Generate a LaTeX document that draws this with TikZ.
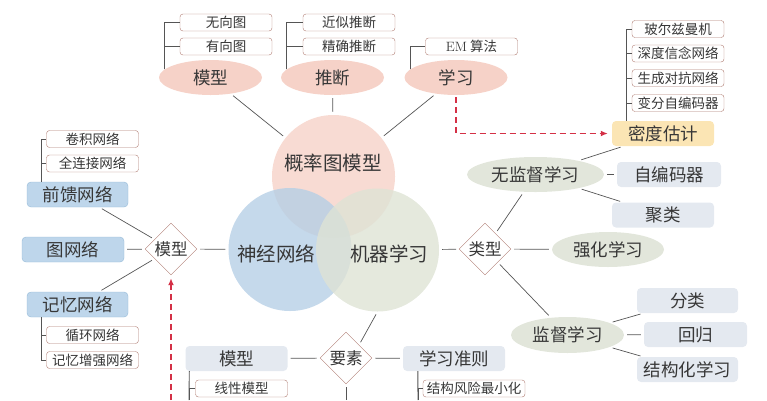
\documentclass[tikz,border=0pt]{standalone}
\usepackage{fontspec}
\newfontfamily\cjk{Noto Sans CJK SC}
\usetikzlibrary{shapes.geometric,arrows.meta}

\definecolor{txtc}{RGB}{55,55,55}
\definecolor{linec}{RGB}{85,85,85}
\definecolor{leafc}{RGB}{176,125,115}
\definecolor{pinkc}{RGB}{246,210,200}
\definecolor{bluec}{RGB}{182,207,230}
\definecolor{greenc}{RGB}{222,227,213}
\definecolor{blueboxc}{RGB}{190,214,235}
\definecolor{blueedge}{RGB}{150,186,216}
\definecolor{grayboxc}{RGB}{228,233,240}
\definecolor{greenell}{RGB}{226,230,219}
\definecolor{yellowc}{RGB}{251,229,180}
\definecolor{redc}{RGB}{212,48,70}

\begin{document}
\begin{tikzpicture}[x=1pt,y=-1pt,
    every node/.style={text=txtc},
    leaf/.style={rectangle, rounded corners=3pt, draw=leafc, fill=white, minimum width=92pt, minimum height=17pt, inner sep=0pt, font={\cjk\fontsize{13.5}{14}\selectfont}},
    bluebox/.style={rectangle, rounded corners=4pt, draw=blueedge, fill=blueboxc, minimum width=101pt, minimum height=25pt, inner sep=0pt, font={\cjk\fontsize{17.5}{18}\selectfont}},
    graybox/.style={rectangle, rounded corners=4pt, fill=grayboxc, minimum width=102pt, minimum height=25pt, inner sep=0pt, font={\cjk\fontsize{17.5}{18}\selectfont}},
    yellowbox/.style={rectangle, rounded corners=4pt, fill=yellowc, minimum width=102pt, minimum height=25pt, inner sep=0pt, font={\cjk\fontsize{17.5}{18}\selectfont}},
    pinkell/.style={ellipse, fill=pinkc, minimum width=103pt, minimum height=35pt, inner sep=0pt, font={\cjk\fontsize{17.5}{18}\selectfont}},
    greenellip/.style={ellipse, fill=greenell, minimum height=35pt, inner sep=0pt, font={\cjk\fontsize{17.5}{18}\selectfont}},
    diam/.style={diamond, draw=leafc, fill=white, minimum size=52pt, inner sep=0pt, font={\cjk\fontsize{16.5}{17}\selectfont}},
    bigc/.style={circle, minimum size=123pt, inner sep=0pt, fill opacity=0.8},
    bigtext/.style={font={\cjk\fontsize{19.5}{20}\selectfont}},
    link/.style={draw=linec, line width=0.7pt, shorten <=3pt, shorten >=3pt},
    bracket/.style={draw=linec, line width=0.9pt},
    redarrow/.style={draw=redc, line width=1.4pt, dash pattern=on 6pt off 4pt, -{Latex[length=7pt,width=6pt]}}]

        \useasboundingbox (0,0) rectangle (767,400);

        % Circles
        \node(pgm) [bigc, fill=pinkc] at (333.5,176.5) {};
        \node(nn) [bigc, fill=bluec] at (290,249.5) {};
        \node(ml) [bigc, fill=greenc] at (377.5,250) {};
        \node(pgmt) [bigtext] at (333,163) {概率图模型};
        \node(nnt) [bigtext] at (276,254) {神经网络};
        \node(mlt) [bigtext] at (389,254) {机器学习};

        % Top
        \node(gm) [pinkell] at (210.5,77.5) {模型};
        \node(td) [pinkell] at (332.5,77.5) {推断};
        \node(xx) [pinkell] at (456,77.5) {学习};
        \node(wx) [leaf] at (226,22.5) {无向图};
        \node(yx) [leaf] at (226,46.5) {有向图};
        \node(js) [leaf] at (349,22.5) {近似推断};
        \node(jq) [leaf] at (349,46.5) {精确推断};
        \node(em) [leaf] at (471.5,46.5) {{\rmfamily EM} 算法};

        % Left
        \node(ff) [bluebox] at (77.5,194.5) {前馈网络};
        \node(jj) [leaf] at (92.5,139) {卷积网络};
        \node(qlj) [leaf] at (92.5,163.5) {全连接网络};
        \node(gn) [bluebox, minimum width=102pt] at (73,249.5) {图网络};
        \node(jy) [bluebox] at (77.5,304.5) {记忆网络};
        \node(xh) [leaf] at (92.5,335) {循环网络};
        \node(zq) [leaf] at (92.5,360) {记忆增强网络};
        \node(mx) [diam] at (171,249) {模型};

        % Bottom
        \node(ys) [diam] at (346,358) {要素};
        \node(bm) [graybox] at (236.5,358.5) {模型};
        \node(xm) [leaf] at (241.5,388.5) {线性模型};
        \node(zz) [graybox] at (454,358.5) {学习准则};
        \node(jf) [leaf, minimum width=102pt] at (474,388.5) {结构风险最小化};
        \coordinate(bmend) at (189,400);
        \coordinate(zzend) at (418,400);
        \coordinate(ysend) at (346,400);
        \coordinate(arrstart) at (171,400);

        % Right
        \node(lx) [diam] at (485,249) {类型};
        \node(wj) [greenellip, minimum width=137pt] at (535.5,174.5) {无监督学习};
        \node(mdgj) [yellowbox] at (663,133.5) {密度估计};
        \node(bez) [leaf] at (678,29) {玻尔兹曼机};
        \node(sdx) [leaf] at (678,53.5) {深度信念网络};
        \node(scd) [leaf] at (678,78) {生成对抗网络};
        \node(bfz) [leaf] at (678,103) {变分自编码器};
        \node(zbm) [graybox, minimum width=104pt] at (669,174.5) {自编码器};
        \node(jl) [graybox] at (663,215) {聚类};
        \node(qh) [greenellip, minimum width=112pt] at (608,249.5) {强化学习};
        \node(jd) [greenellip, minimum width=113pt, minimum height=36pt] at (567.5,335) {监督学习};
        \node(fl) [graybox, minimum width=101pt] at (687.5,300.5) {分类};
        \node(hg) [graybox, minimum width=103pt] at (695.5,334.5) {回归};
        \node(jg) [graybox, minimum width=101pt] at (687.5,369.5) {结构化学习};

        % Brackets
        \draw[bracket] (gm.170) |- (wx.west);
        \draw[bracket] (gm.170) |- (yx.west);
        \draw[bracket] (td.170) |- (js.west);
        \draw[bracket] (td.170) |- (jq.west);
        \draw[bracket] (xx.170) |- (em.west);
        \draw[bracket] ([xshift=15pt]ff.north west) |- (jj.west);
        \draw[bracket] ([xshift=15pt]ff.north west) |- (qlj.west);
        \draw[bracket] ([xshift=15pt]jy.south west) |- (xh.west);
        \draw[bracket] ([xshift=15pt]jy.south west) |- (zq.west);
        \foreach \n in {bez,sdx,scd,bfz}
            \draw[bracket] ([xshift=15pt]mdgj.north west) |- (\n.west);
        \draw[bracket] ([xshift=4pt]bm.south west) -- (bmend);
        \draw[bracket] (xm.west) -| (bmend);
        \draw[bracket] ([xshift=15pt]zz.south west) -- (zzend);
        \draw[bracket] (jf.west) -| (zzend);

        % Edges
        \draw[link] (gm) -- (pgm);
        \draw[link] (td) -- (pgm);
        \draw[link] (xx) -- (pgm);
        \draw[link] (ff) -- (mx);
        \draw[link] (gn) -- (mx);
        \draw[link] (jy) -- (mx);
        \draw[link] (mx) -- (nn);
        \draw[link] (ml) -- (lx);
        \draw[link] (ml.south) -- (ys.north east);
        \draw[link] (bm) -- (ys);
        \draw[link] (ys) -- (zz);
        \draw[link, shorten >=0pt] (ys) -- (ysend);
        \draw[link] (lx) -- (wj);
        \draw[link] (lx) -- (qh);
        \draw[link] (lx) -- (jd);
        \draw[link] (wj) -- (mdgj);
        \draw[link] (wj) -- (zbm);
        \draw[link] (wj) -- (jl);
        \draw[link] (jd) -- (fl);
        \draw[link] (jd) -- (hg);
        \draw[link] (jd) -- (jg);

        % Dashed arrows
        \draw[redarrow, shorten <=2pt, shorten >=4pt] (xx.south) |- (mdgj.west);
        \draw[redarrow, shorten >=3pt] (arrstart) -- (mx.south);
    \end{tikzpicture}
\end{document}
